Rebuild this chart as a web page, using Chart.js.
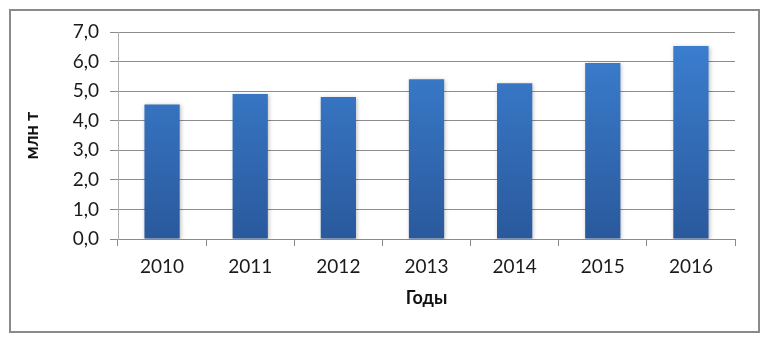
<!DOCTYPE html>
<html>
<head>
<meta charset="utf-8">
<script src="https://cdn.jsdelivr.net/npm/chart.js@4.4.0/dist/chart.umd.min.js"></script>
<style>
  html, body { margin: 0; padding: 0; background: #fff; }
  #wrap { width: 770px; height: 339px; }
</style>
</head>
<body>
<div id="wrap"><canvas id="chart" width="770" height="339"></canvas></div>
<script>
// chart data
const years = ['2010', '2011', '2012', '2013', '2014', '2015', '2016'];
const volumes = [4.55, 4.9, 4.8, 5.4, 5.27, 5.95, 6.53];

const yMin = 0;
const yMax = 7;
const yStep = 1;

// outer frame around the whole chart
const framePlugin = {
  id: 'frame',
  beforeDraw(chart) {
    const ctx = chart.ctx;
    ctx.save();
    ctx.fillStyle = '#fff';
    ctx.fillRect(0, 0, chart.width, chart.height);
    ctx.strokeStyle = '#8a8a8a';
    ctx.lineWidth = 2;
    ctx.strokeRect(10, 10, 749, 322);
    ctx.restore();
  }
};

// shadow behind the bars
const shadowPlugin = {
  id: 'barShadow',
  beforeDatasetsDraw(chart) {
    chart.ctx.save();
    chart.ctx.shadowColor = 'rgba(0,0,0,0.25)';
    chart.ctx.shadowBlur = 4;
    chart.ctx.shadowOffsetX = 1;
    chart.ctx.shadowOffsetY = 1;
  },
  afterDatasetsDraw(chart) {
    chart.ctx.restore();
  }
};

function barGradient(context) {
  const area = context.chart.chartArea;
  if (!area) return '#3570c0';
  const g = context.chart.ctx.createLinearGradient(0, area.top, 0, area.bottom);
  g.addColorStop(0, '#3c80d2');
  g.addColorStop(1, '#2a599c');
  return g;
}

const tickFont = { family: 'Lato, "Open Sans", sans-serif', size: 19 };
const titleFont = { family: 'Lato, "Open Sans", sans-serif', size: 18, weight: 'bold' };

new Chart(document.getElementById('chart'), {
  type: 'bar',
  data: {
    labels: years,
    datasets: [{
      data: volumes,
      backgroundColor: barGradient,
      borderWidth: 0,
      barPercentage: 0.4,
      categoryPercentage: 1
    }]
  },
  options: {
    responsive: false,
    animation: false,
    layout: { padding: { left: 10, right: 35, top: 32, bottom: 10 } },
    plugins: {
      legend: { display: false },
      tooltip: { enabled: false }
    },
    scales: {
      x: {
        afterFit(scale) { scale.height = 90; },
        grid: {
          drawOnChartArea: false,
          drawTicks: true,
          tickLength: 7,
          color: '#8a8a8a'
        },
        border: { color: '#8a8a8a' },
        ticks: { color: '#1a1a1a', font: tickFont, padding: 9 },
        title: {
          display: true,
          text: 'Годы',
          color: '#111',
          font: titleFont,
          padding: { top: 0, bottom: 20 }
        }
      },
      y: {
        min: yMin,
        max: yMax,
        afterFit(scale) { scale.width = 108; },
        grid: {
          color: '#8c8c8c',
          tickLength: 8
        },
        border: { color: '#b0b0b0' },
        ticks: {
          stepSize: yStep,
          color: '#1a1a1a',
          font: tickFont,
          padding: 11,
          callback: v => v.toFixed(1).replace('.', ',')
        },
        title: {
          display: true,
          text: 'млн т',
          color: '#111',
          font: titleFont,
          padding: { top: 11, bottom: 0 }
        }
      }
    }
  },
  plugins: [framePlugin, shadowPlugin]
});
</script>
</body>
</html>
